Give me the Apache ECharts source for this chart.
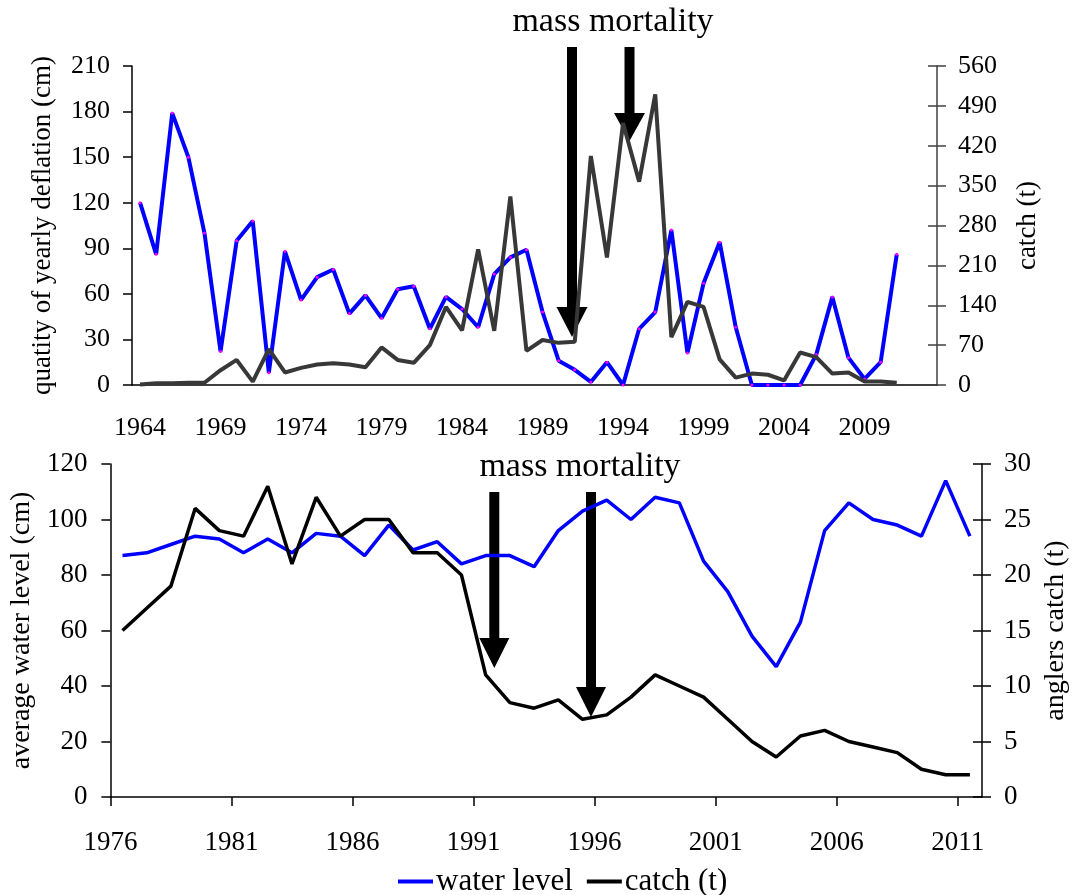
<!DOCTYPE html>
<html><head><meta charset="utf-8">
<script src="https://cdn.jsdelivr.net/npm/echarts@6/dist/echarts.min.js"></script>
<style>html,body{margin:0;padding:0;background:#fff}#c{width:1078px;height:895px}</style>
</head><body><div id="c"></div>
<script>
const FONT = "'Liberation Serif','Times New Roman',serif";

// ---- Top panel (1964-2013 categories) ----
const topYears = ['1964','1965','1966','1967','1968','1969','1970','1971','1972','1973',
  '1974','1975','1976','1977','1978','1979','1980','1981','1982','1983',
  '1984','1985','1986','1987','1988','1989','1990','1991','1992','1993',
  '1994','1995','1996','1997','1998','1999','2000','2001','2002','2003',
  '2004','2005','2006','2007','2008','2009','2010','2011','2012','2013'];
const deflation = [120,86,179,150,100,22,95,108,8,88,56,71,76,47,59,44,63,65,37,58,50,38,73,84,89,
  48,16,10,2,15,0,37,48,102,21,67,94,38,0,0,0,0,20,58,18,4,15,86];
const topCatch = [1,3,3,4,4,26,44,6,63,22,30,36,38,36,31,66,44,39,70,137,96,238,95,331,60,
  79,74,76,402,224,460,357,510,84,146,137,45,13,20,18,8,57,49,20,22,6,6,4];

// ---- Bottom panel (1976-2011) ----
const bottomYears = [1976,1977,1978,1979,1980,1981,1982,1983,1984,1985,1986,1987,1988,1989,1990,1991,1992,1993,
  1994,1995,1996,1997,1998,1999,2000,2001,2002,2003,2004,2005,2006,2007,2008,2009,2010,2011];
const waterLevel = [87,88,91,94,93,88,93,88,95,94,87,98,89,92,84,87,87,83,
  96,103,107,100,108,106,85,74,58,47,63,96,106,100,98,94,114,94];
const anglersCatch = [15,17,19,26,24,23.5,28,21,27,23.5,25,25,22,22,20,11,8.5,8,
  8.75,7,7.4,9,11,10,9,7,5,3.6,5.5,6,5,4.5,4,2.5,2,2];

const baseYear = bottomYears[0];
const waterPts = bottomYears.map((y, i) => [y - baseYear + 0.5, waterLevel[i]]);
const catchPts = bottomYears.map((y, i) => [y - baseYear + 0.5, anglersCatch[i]]);

const chart = echarts.init(document.getElementById('c'), null, {renderer: 'canvas'});

const lbl = (size, extra) => Object.assign({color: '#000', fontFamily: FONT, fontSize: size}, extra || {});

function arrow(x, yTop, yHead, yTip, shaftW, headW) {
  return [
    {type: 'rect', shape: {x: x - shaftW / 2, y: yTop, width: shaftW, height: yHead - yTop + 1}, style: {fill: '#000'}, z: 1},
    {type: 'polygon', shape: {points: [[x - headW / 2, yHead], [x + headW / 2, yHead], [x, yTip]]}, style: {fill: '#000'}, z: 1}
  ];
}

const option = {
  backgroundColor: '#fff',
  animation: false,
  textStyle: {fontFamily: FONT},
  grid: [
    {left: 132, top: 66, width: 805, height: 319},
    {left: 103, top: 464, width: 886, height: 333}
  ],
  legend: {
    data: ['water level', 'catch (t)'],
    left: 393, top: 861,
    icon: 'rect', itemWidth: 35, itemHeight: 4, itemGap: 14,
    textStyle: lbl(31, {padding: [0, 0, 0, -2]})
  },
  xAxis: [
    {
      type: 'category', gridIndex: 0, data: topYears, boundaryGap: true,
      axisLine: {lineStyle: {color: '#000', width: 1.5}},
      axisTick: {interval: 4, length: 8, lineStyle: {color: '#000', width: 1.5}},
      axisLabel: lbl(26, {interval: 4, margin: 30})
    },
    {
      type: 'value', gridIndex: 1, min: 0, max: 36, interval: 5,
      axisLine: {lineStyle: {color: '#000', width: 1.5}},
      axisTick: {length: 9, lineStyle: {color: '#000', width: 1.5}},
      splitLine: {show: false},
      axisLabel: lbl(27, {margin: 32, showMaxLabel: false,
        formatter: v => (v % 5 === 0 && v < 36) ? String(baseYear + v) : ''})
    }
  ],
  yAxis: [
    {
      type: 'value', gridIndex: 0, position: 'left', min: 0, max: 210, interval: 30,
      name: 'quatity of yearly deflation (cm)', nameLocation: 'middle', nameGap: 76,
      nameTextStyle: lbl(27),
      axisLine: {show: true, lineStyle: {color: '#000', width: 1.5}},
      axisTick: {show: true, length: 9, lineStyle: {color: '#000', width: 1.5}},
      splitLine: {show: false},
      axisLabel: lbl(26, {margin: 22})
    },
    {
      type: 'value', gridIndex: 0, position: 'right', min: 0, max: 560, interval: 70,
      name: 'catch (t)', nameLocation: 'middle', nameGap: 77, nameRotate: 90,
      nameTextStyle: lbl(27),
      axisLine: {show: true, lineStyle: {color: '#404040', width: 1.5}},
      axisTick: {show: true, length: 9, lineStyle: {color: '#404040', width: 1.5}},
      splitLine: {show: false},
      axisLabel: lbl(26, {margin: 21})
    },
    {
      type: 'value', gridIndex: 0, position: 'right', min: 0, max: 560, interval: 70,
      axisLine: {show: false}, axisLabel: {show: false}, splitLine: {show: false},
      axisTick: {show: true, inside: true, length: 9, lineStyle: {color: '#404040', width: 1.5}}
    },
    {
      type: 'value', gridIndex: 1, position: 'left', min: 0, max: 120, interval: 20,
      name: 'average water level (cm)', nameLocation: 'middle', nameGap: 66,
      nameTextStyle: lbl(28),
      axisLine: {show: true, lineStyle: {color: '#000', width: 1.5}},
      axisTick: {show: true, length: 9, lineStyle: {color: '#000', width: 1.5}},
      splitLine: {show: false},
      axisLabel: lbl(27, {margin: 23})
    },
    {
      type: 'value', gridIndex: 1, position: 'right', min: 0, max: 30, interval: 5,
      name: 'anglers catch (t)', nameLocation: 'middle', nameGap: 60, nameRotate: 90,
      nameTextStyle: lbl(28),
      axisLine: {show: true, lineStyle: {color: '#000', width: 1.5}},
      axisTick: {show: true, length: 9, lineStyle: {color: '#000', width: 1.5}},
      splitLine: {show: false},
      axisLabel: lbl(27, {margin: 22})
    },
    {
      type: 'value', gridIndex: 1, position: 'right', min: 0, max: 30, interval: 5,
      axisLine: {show: false}, axisLabel: {show: false}, splitLine: {show: false},
      axisTick: {show: true, inside: true, length: 9, lineStyle: {color: '#000', width: 1.5}}
    }
  ],
  series: [
    {
      name: 'deflation', type: 'line', xAxisIndex: 0, yAxisIndex: 0, data: deflation,
      showSymbol: true, symbol: 'circle', symbolSize: 3,
      itemStyle: {color: '#ff00ff'}, lineStyle: {color: '#0000ff', width: 4},
      z: 3
    },
    {
      name: 'top catch', type: 'line', xAxisIndex: 0, yAxisIndex: 1, data: topCatch,
      showSymbol: false, lineStyle: {color: '#383838', width: 4}, itemStyle: {color: '#383838'},
      z: 4
    },
    {
      name: 'water level', type: 'line', xAxisIndex: 1, yAxisIndex: 3, data: waterPts,
      showSymbol: false, lineStyle: {color: '#0000ff', width: 3.5}, itemStyle: {color: '#0000ff'},
      z: 3
    },
    {
      name: 'catch (t)', type: 'line', xAxisIndex: 1, yAxisIndex: 4, data: catchPts,
      showSymbol: false, lineStyle: {color: '#000', width: 3.5}, itemStyle: {color: '#000'},
      z: 4
    }
  ],
  graphic: [
    {type: 'text', style: {text: 'mass mortality', x: 613, y: 22, align: 'center', verticalAlign: 'middle', font: "34px " + FONT, fill: '#000'}, z: 5},
    {type: 'text', style: {text: 'mass mortality', x: 580, y: 467, align: 'center', verticalAlign: 'middle', font: "34px " + FONT, fill: '#000'}, z: 5}
  ]
    .concat(arrow(572, 47, 307, 337, 10, 31))
    .concat(arrow(629.5, 47, 113, 141, 10, 31))
    .concat(arrow(494.3, 492, 638, 668, 10, 30))
    .concat(arrow(591, 492, 687, 717, 10, 30))
};
chart.setOption(option);
</script></body></html>
